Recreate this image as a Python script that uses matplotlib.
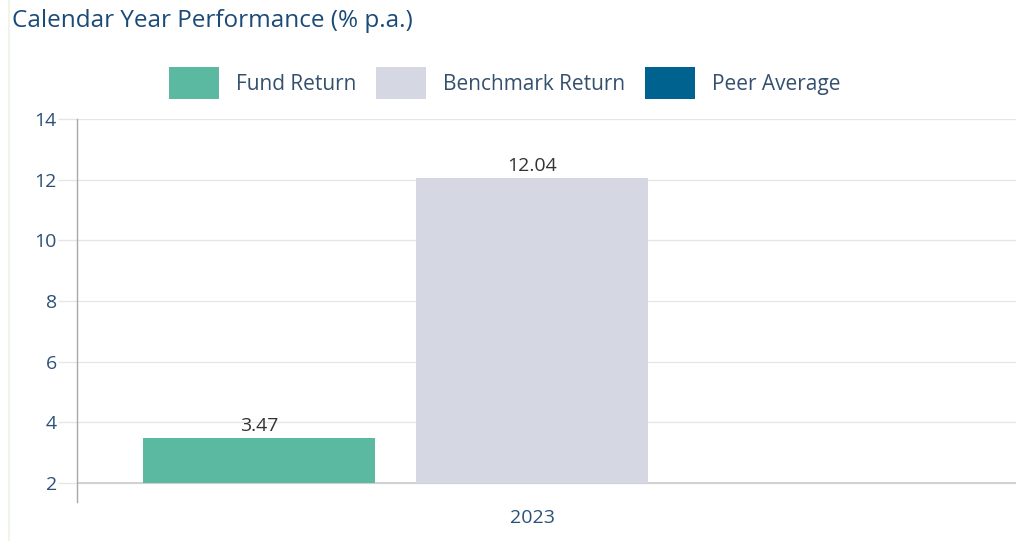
import matplotlib
matplotlib.use('Agg')

import numpy as np
import matplotlib.pyplot as plt
from matplotlib.lines import Line2D

categories = ["2023"]
series_names = ["Fund Return", "Benchmark Return", "Peer Average"]
fund = [3.47]
benchmark = [12.04]
peer = [np.nan]
colors = ["#5BB9A2", "#D5D7E2", "#00628F"]
yticks = [2, 4, 6, 8, 10, 12, 14]

plt.rcParams['font.family'] = ['Open Sans', 'DejaVu Sans']

fig = plt.figure(figsize=(10.16, 5.41), dpi=100)
ax = fig.add_axes([77 / 1016, 1 - 502 / 541, 1 - 77 / 1016, (502 - 119) / 541])

x = np.arange(len(categories))
offset = 0.3
width = 0.255
base = 2
for i, (name, vals, col) in enumerate(zip(series_names, [fund, benchmark, peer], colors)):
    vals = np.array(vals, dtype=float)
    bars = ax.bar(x + (i - 1) * offset, vals - base, width, bottom=base,
                  color=col, label=name, zorder=3)
    for b, v in zip(bars, vals):
        if not np.isnan(v):
            ax.text(b.get_x() + b.get_width() / 2, v + 0.1, f"{v:.2f}",
                    ha='center', va='bottom', fontsize=14, color='#333333',
                    zorder=4)

ax.set_xlim(-0.5, -0.5 + 939 / 910)
ax.set_ylim(base - 19 / 30.33, 14)
ax.set_yticks(yticks)
ax.set_yticklabels([str(t) for t in yticks], fontsize=14, color='#2B5178')
ax.set_xticks(x)
ax.set_xticklabels(categories, fontsize=14, color='#2B5178')
ax.tick_params(axis='x', length=0, pad=5)
ax.tick_params(axis='y', length=13.5, color='#E6E6E6', width=1, pad=1)

ax.grid(axis='y', color='#E6E6E6', linewidth=1, zorder=0)
ax.axhline(base, color='#CCCCCC', linewidth=1.2, zorder=2)
for s in ['top', 'right', 'bottom']:
    ax.spines[s].set_visible(False)
ax.spines['left'].set_color('#A8A8A8')
ax.spines['left'].set_linewidth(1)

leg = ax.legend(loc='center', ncol=3, frameon=False, fontsize=15,
                handlelength=2.4, handleheight=1.98, handletextpad=0.81,
                columnspacing=0.96, borderaxespad=0, borderpad=0)
leg.set_bbox_to_anchor((505 / 1016, 1 - 83 / 541), transform=fig.transFigure)
for t in leg.get_texts():
    t.set_color('#34506E')

fig.text(12 / 1016, 1 - 21 / 541, "Calendar Year Performance (% p.a.)",
         fontsize=17.5, color='#1A4A78', ha='left', va='center')
fig.add_artist(Line2D([9 / 1016, 9 / 1016], [0, 1], color='#EEF6E8', linewidth=1.5))

fig.savefig("out.png", dpi=100)
